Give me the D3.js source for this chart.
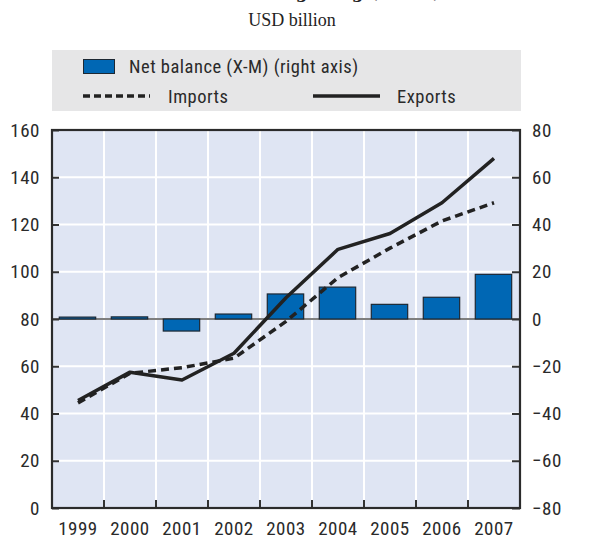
<!DOCTYPE html>
<html>
<head>
<meta charset="utf-8">
<script src="https://cdn.jsdelivr.net/npm/d3@7"></script>
<style>
  body { margin: 0; background: #fff; }
  svg { display: block; }
  .tick text { font-family: "Liberation Sans Narrow", "Roboto Condensed", "Arial Narrow", sans-serif; }
</style>
</head>
<body>
<svg id="chart" width="590" height="539"></svg>
<script>
// data
var years = ["1999", "2000", "2001", "2002", "2003", "2004", "2005", "2006", "2007"];
var exportsVal = [45.5, 57.5, 54.2, 65.5, 89, 109.5, 116.2, 129.2, 148];
var importsVal = [44.5, 57, 59.4, 63.4, 79, 97.5, 110, 121.5, 129.2];
var balanceVal = [0.8, 0.9, -5.1, 2.1, 10.6, 13.5, 6.2, 9.2, 18.9];
var leftTicks = [0, 20, 40, 60, 80, 100, 120, 140, 160];
var rightTicks = [-80, -60, -40, -20, 0, 20, 40, 60, 80];

var svg = d3.select("#chart");
var narrow = '"Liberation Sans Narrow", "Roboto Condensed", "Arial Narrow", sans-serif';

var L = 52, R = 520, T = 130, B = 508;

var x = d3.scaleBand().domain(years).range([L, R]).padding(0);
var yL = d3.scaleLinear().domain([0, 160]).range([B, T]);
var yR = d3.scaleLinear().domain([-80, 80]).range([B, T]);

// title (cut off at the top, as in the source) and unit
svg.append("text")
    .attr("x", 295).attr("y", -2)
    .attr("text-anchor", "middle")
    .style("font-family", "DejaVu Serif, serif")
    .style("font-weight", "bold")
    .style("font-size", "17px")
    .attr("fill", "#222")
    .text("Trade with Hong Kong (China)");
svg.append("text")
    .attr("x", 292).attr("y", 26)
    .attr("text-anchor", "middle")
    .style("font-family", "Liberation Serif, serif")
    .style("font-size", "18px")
    .attr("fill", "#222")
    .text("USD billion");

// legend
var leg = svg.append("g");
leg.append("rect").attr("x", 52).attr("y", 50).attr("width", 469).attr("height", 61).attr("fill", "#e6e6e7");
leg.append("rect").attr("x", 83.5).attr("y", 59.5).attr("width", 31).attr("height", 14)
    .attr("fill", "#0067b4").attr("stroke", "#1d2833").attr("stroke-width", 1);
leg.append("text").attr("x", 129).attr("y", 73).text("Net balance (X-M) (right axis)");
leg.append("line").attr("x1", 83).attr("x2", 150).attr("y1", 96).attr("y2", 96)
    .attr("stroke", "#222").attr("stroke-width", 3.5).attr("stroke-dasharray", "7,4");
leg.append("text").attr("x", 168).attr("y", 103).text("Imports");
leg.append("line").attr("x1", 313).attr("x2", 380).attr("y1", 96).attr("y2", 96)
    .attr("stroke", "#222").attr("stroke-width", 3.5);
leg.append("text").attr("x", 397).attr("y", 103).text("Exports");
leg.selectAll("text")
    .style("font-family", narrow)
    .style("font-size", "18.5px")
    .style("letter-spacing", "0.5px")
    .attr("fill", "#2a2a2a");

// plot background + grid
svg.append("rect").attr("x", L).attr("y", T).attr("width", R - L).attr("height", B - T).attr("fill", "#dfe5f3");

svg.append("g").selectAll("line").data(leftTicks.slice(1, -1)).join("line")
    .attr("x1", L).attr("x2", R)
    .attr("y1", function(d){ return yL(d); }).attr("y2", function(d){ return yL(d); })
    .attr("stroke", "#fff").attr("stroke-width", 2);
svg.append("g").selectAll("line").data(years.slice(1)).join("line")
    .attr("x1", function(d){ return x(d); }).attr("x2", function(d){ return x(d); })
    .attr("y1", T).attr("y2", B)
    .attr("stroke", "#fff").attr("stroke-width", 2);

// zero line of right axis
svg.append("line").attr("x1", L).attr("x2", R).attr("y1", yR(0)).attr("y2", yR(0))
    .attr("stroke", "#555").attr("stroke-width", 1.5);

// bars (right axis)
var bw = x.bandwidth();
svg.append("g").selectAll("rect").data(balanceVal).join("rect")
    .attr("x", function(d, i){ return x(years[i]) + bw * 0.14; })
    .attr("width", bw * 0.70)
    .attr("y", function(d){ return yR(Math.max(0, d)); })
    .attr("height", function(d){ return Math.abs(yR(d) - yR(0)); })
    .attr("fill", "#0067b4")
    .attr("stroke", "#1d2833").attr("stroke-width", 1.2);

// lines (left axis)
var line = d3.line()
    .x(function(d, i){ return x(years[i]) + bw / 2; })
    .y(function(d){ return yL(d); });

svg.append("path").datum(importsVal).attr("d", line)
    .attr("fill", "none").attr("stroke", "#222").attr("stroke-width", 3.5)
    .attr("stroke-dasharray", "8,5");
svg.append("path").datum(exportsVal).attr("d", line)
    .attr("fill", "none").attr("stroke", "#222").attr("stroke-width", 3.5)
    .attr("stroke-linejoin", "round");

// axes
var axL = svg.append("g").attr("transform", "translate(" + L + ",0)")
    .call(d3.axisLeft(yL).tickValues(leftTicks).tickSize(-7).tickPadding(12));
var axR = svg.append("g").attr("transform", "translate(" + R + ",0)")
    .call(d3.axisRight(yR).tickValues(rightTicks).tickSize(-8).tickPadding(20));
var axB = svg.append("g").attr("transform", "translate(0," + B + ")")
    .call(d3.axisBottom(x).tickSize(0).tickPadding(14));

[axL, axR, axB].forEach(function(a){
    a.select(".domain").remove();
    a.selectAll("line").attr("stroke", "#333").attr("stroke-width", 2);
    a.selectAll("text").style("font-size", "19px").style("letter-spacing", "0.5px").attr("fill", "#2a2a2a");
});
axR.selectAll("text").attr("text-anchor", "start").attr("x", 12);

// bottom ticks at category boundaries
svg.append("g").selectAll("line").data(years.slice(1)).join("line")
    .attr("x1", function(d){ return x(d); }).attr("x2", function(d){ return x(d); })
    .attr("y1", B).attr("y2", B - 8)
    .attr("stroke", "#333").attr("stroke-width", 2);

// frame
svg.append("rect").attr("x", L).attr("y", T).attr("width", R - L).attr("height", B - T)
    .attr("fill", "none").attr("stroke", "#2b2b2b").attr("stroke-width", 2.2);
</script>
</body>
</html>
